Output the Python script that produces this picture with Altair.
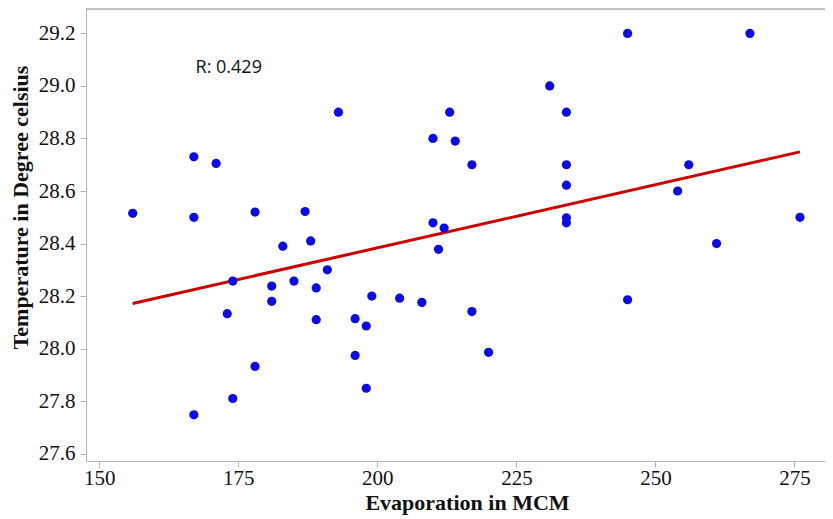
import altair as alt
import pandas as pd

evaporation = [156, 167, 171, 167, 178, 183, 174, 181, 181, 185, 173, 178, 174, 167,
               187, 188, 193, 210, 213, 214, 217, 231, 234, 234, 234, 234, 234, 210,
               212, 211, 189, 191, 189, 199, 204, 208, 196, 198, 217, 220, 196, 198,
               245, 267, 256, 254, 276, 261, 245]
temperature = [28.515, 28.73, 28.705, 28.50, 28.52, 28.39, 28.257, 28.238, 28.18, 28.257,
               28.133, 27.932, 27.81, 27.748, 28.522, 28.41, 28.90, 28.80, 28.90, 28.79,
               28.70, 29.00, 28.90, 28.70, 28.622, 28.498, 28.479, 28.479, 28.459, 28.378,
               28.231, 28.30, 28.11, 28.20, 28.192, 28.176, 28.114, 28.086, 28.141, 27.986,
               27.974, 27.849, 29.20, 29.20, 28.70, 28.60, 28.50, 28.40, 28.186]

fit_x = [156, 276]
fit_y = [28.172, 28.749]

label_x = [167.3]
label_y = [29.067]
label_text = ["R: 0.429"]

x_ticks = [150, 175, 200, 225, 250, 275]
y_ticks = [27.6, 27.8, 28.0, 28.2, 28.4, 28.6, 28.8, 29.0, 29.2]

pts = pd.DataFrame({"x": evaporation, "y": temperature})
fit = pd.DataFrame({"x": fit_x, "y": fit_y})
lab = pd.DataFrame({"x": label_x, "y": label_y, "t": label_text})

W, H = 739, 452

xscale = alt.Scale(domain=[147.6, 280.5], nice=False, zero=False)
yscale = alt.Scale(domain=[27.572, 29.293], nice=False, zero=False)

xaxis = alt.Axis(values=x_ticks, title="Evaporation in MCM", grid=False,
                 domainColor="#b4b4b4", tickColor="#b4b4b4", tickSize=6,
                 labelFont="Liberation Serif", labelFontSize=21, labelColor="#111",
                 labelPadding=0, titleFont="Liberation Serif", titleFontSize=22,
                 titleFontWeight="bold", titleColor="#111", titlePadding=4,
                 titleX=381)
yaxis = alt.Axis(values=y_ticks, format=".1f", title="Temperature in Degree celsius",
                 grid=False, domainColor="#b4b4b4", tickColor="#b4b4b4", tickSize=6,
                 labelFont="Liberation Serif", labelFontSize=21, labelColor="#111",
                 labelPadding=5, titleFont="Liberation Serif", titleFontSize=22,
                 titleFontWeight="bold", titleColor="#111", titlePadding=6,
                 titleY=198)

points = alt.Chart(pts).mark_circle(size=85, color="#0c0ce0", opacity=1).encode(
    x=alt.X("x:Q", scale=xscale, axis=xaxis),
    y=alt.Y("y:Q", scale=yscale, axis=yaxis),
)

line = alt.Chart(fit).mark_line(color="#cc0000", strokeWidth=3).encode(
    x=alt.X("x:Q", scale=xscale),
    y=alt.Y("y:Q", scale=yscale),
)

text = alt.Chart(lab).mark_text(align="left", baseline="middle", font="Open Sans",
                                fontSize=18, fontWeight=500, color="#111").encode(
    x=alt.X("x:Q", scale=xscale),
    y=alt.Y("y:Q", scale=yscale),
    text="t:N",
)

top = alt.Chart(lab).mark_rule(color="#b4b4b4", strokeWidth=1.5).encode(
    x=alt.value(0), x2=alt.value(W), y=alt.value(0)
)

chart = alt.layer(top, line, points, text).properties(
    width=W, height=H,
    autosize=alt.AutoSizeParams(type="none"),
    padding={"left": 78, "top": 1, "right": 0, "bottom": 57},
).configure_view(stroke=None).configure(background="white")

chart.save("out.html", embed_options={"renderer": "svg", "actions": False})
